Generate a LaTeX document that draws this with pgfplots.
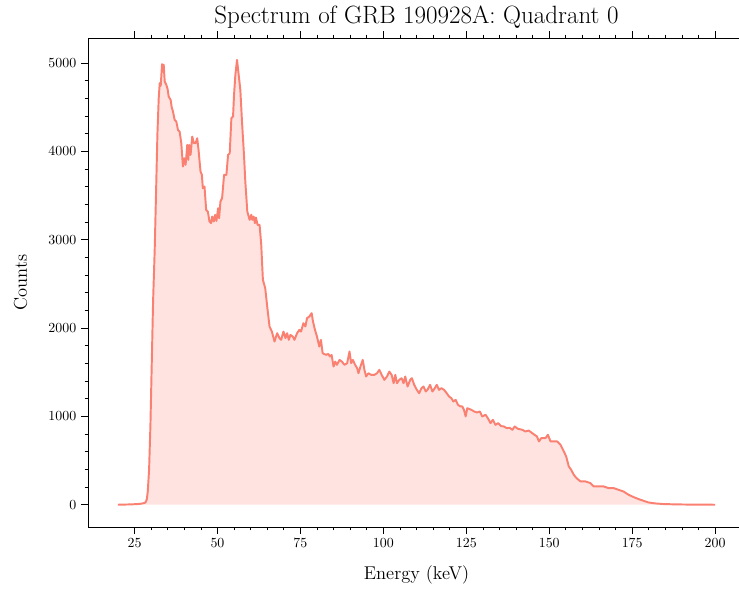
\documentclass[border=0pt]{standalone}
\usepackage{pgfplots}
\usepackage{pgfplotstable}
\pgfplotsset{compat=1.18}
\definecolor{salmon}{RGB}{250,128,114}
\pgfplotstableread{
x y
20 0
22 2
24 4
26 8
27 12
27.8 18
28.3 25
28.7 60
29.0 150
29.4 400
29.8 900
30.2 1600
30.6 2300
31.1 2900
31.6 3700
31.9 4186
32.3 4600
32.6 4770
32.9 4740
33.3 4985
33.6 4900
33.8 4980
34.1 4790
34.6 4751
35.0 4700
35.3 4619
35.9 4581
36.2 4500
36.6 4449
37.1 4355
37.6 4336
38.1 4242
38.6 4223
39.1 4091
39.6 3827
39.9 3900
40.1 3921
40.4 3846
40.9 4072
41.2 3902
41.5 4072
41.9 3959
42.4 4166
42.9 4091
43.4 4091
43.9 4147
44.3 4016
44.9 3771
45.3 3733
45.6 3582
46.1 3601
46.6 3337
47.1 3318
47.6 3205
48.1 3186
48.4 3262
48.9 3205
49.3 3281
49.7 3212
50.2 3356
50.5 3243
50.9 3431
51.4 3469
52.0 3733
52.7 3733
53.2 3959
53.7 3978
54.2 4374
54.7 4393
55.0 4638
55.4 4864
55.9 5034
56.4 4864
56.9 4695
57.4 4336
58.0 3959
58.4 3657
59.0 3318
59.7 3224
60.2 3281
60.5 3224
60.9 3262
61.3 3186
61.6 3250
62.1 3167
62.7 3167
63.2 2941
63.7 2545
64.4 2451
65.0 2243
65.7 2017
66.4 1960
67.2 1847
68.0 1941
68.7 1885
69.2 1866
69.9 1960
70.5 1885
71.0 1941
71.5 1866
72.0 1922
72.7 1903
73.2 1866
74.0 1941
74.7 1979
75.2 1960
75.9 2054
76.5 2017
77.0 2111
77.7 2130
78.4 2168
78.8 2073
79.4 1979
80.0 1903
80.7 1790
81.2 1866
81.7 1715
82.7 1696
83.4 1707
83.9 1677
84.4 1696
85.0 1564
85.5 1620
86.0 1583
86.8 1639
87.5 1620
88.3 1583
89.1 1602
89.8 1734
90.3 1602
90.8 1639
91.5 1583
92.1 1545
92.5 1488
93.1 1564
93.8 1639
94.3 1526
94.8 1451
95.5 1488
96.3 1470
97.3 1470
98.1 1488
98.8 1526
99.5 1470
100.3 1413
101.1 1451
101.8 1507
102.5 1470
103.1 1375
103.6 1470
104.1 1375
104.8 1413
105.5 1432
106.1 1375
106.6 1451
107.3 1338
108.1 1413
108.6 1432
109.3 1357
110.1 1300
110.8 1262
111.5 1319
112.1 1338
112.8 1281
113.3 1300
114.1 1357
114.8 1281
115.5 1319
116.1 1357
116.8 1300
117.5 1319
118.3 1300
119.1 1262
119.8 1225
120.5 1206
121.1 1168
121.8 1187
122.5 1130
123.2 1112
123.8 1112
124.3 1074
124.8 999
125.3 1093
125.8 1085
126.5 1074
127.4 1055
128.2 1044
129.1 1055
129.8 999
130.8 1018
131.5 980
132.3 923
133.0 961
133.8 904
134.6 924
135.5 890
136.3 886
137.2 867
138.1 870
138.9 848
139.6 886
140.5 860
141.9 848
142.8 829
143.8 840
144.9 810
145.6 790
146.3 773
146.9 716
147.6 754
148.9 754
149.6 792
150.4 716
151.4 716
152.4 716
153.4 679
154.4 604
155.1 547
155.9 433
156.6 396
157.4 339
158.2 302
159.4 264
160.9 264
162.4 245
163.4 207
164.9 207
166.4 207
167.9 188
169.4 188
170.9 169
172.4 150
173.9 113
175.4 87
176.9 64
178.4 45
179.9 26
181.9 15
184.4 8
188 4
192 2
196 1
200 0
}\spectrum
\begin{document}
\begin{tikzpicture}
\begin{axis}[
  scale only axis,
  width=473pt, height=352pt,
  xmin=11, xmax=209,
  ymin=-251, ymax=5281,
  xtick={25,50,...,200},
  ytick={0,1000,...,5000},
  minor x tick num=4,
  minor y tick num=4,
  tick pos=both,
  tick align=outside,
  major tick length=5pt,
  minor tick length=2.5pt,
  every tick/.style={black, line width=0.5pt},
  axis line style={line width=0.6pt},
  scaled ticks=false,
  /pgf/number format/1000 sep={},
  tick label style={font=\fontsize{10}{12}\selectfont},
  every axis title shift=0pt,
  title={Spectrum of GRB 190928A: Quadrant 0},
  title style={font=\fontsize{18}{21}\selectfont, at={(axis description cs:0.5,1)}, anchor=base, yshift=10.8pt, inner sep=0pt},
  xlabel={Energy (keV)},
  xlabel style={font=\fontsize{13.3}{15}\selectfont, at={(axis description cs:0.5,0)}, anchor=center, yshift=-34.5pt},
  ylabel={Counts},
  ylabel style={font=\fontsize{13.3}{15}\selectfont, at={(axis description cs:-0.1027,0.5)}, anchor=center},
]
\addplot[draw=none, fill=salmon, fill opacity=0.22] table[x=x,y=y]{\spectrum} \closedcycle;
\addplot[salmon, line width=1.4pt, line join=round] table[x=x,y=y]{\spectrum};
\coordinate (BL) at (rel axis cs:0,0);
\coordinate (TR) at (axis cs:207.2,5281);
\end{axis}
\pgfresetboundingbox
\path[use as bounding box] ([xshift=-63.4pt,yshift=-44.6pt]BL) rectangle ([yshift=27.4pt]TR);
\end{tikzpicture}
\end{document}
